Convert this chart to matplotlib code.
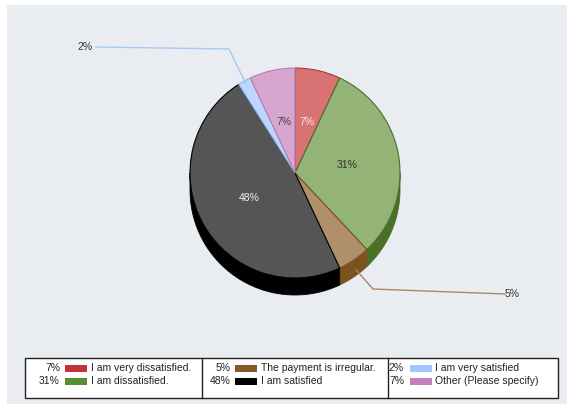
import numpy as np
import matplotlib
matplotlib.use('Agg')
import matplotlib.pyplot as plt
from matplotlib.patches import Wedge, Polygon, Rectangle

plt.rcParams['font.family'] = ['Liberation Sans', 'DejaVu Sans']

# survey answers, in pie order (clockwise from 12 o'clock)
answers = ['I am very dissatisfied.', 'I am dissatisfied.', 'The payment is irregular.',
           'I am satisfied', 'I am very satisfied', 'Other (Please specify)']
shares = [7, 31, 5, 48, 2, 7]

top_colors = ['#d97272', '#93b377', '#b0906c', '#555555', '#bed6ff', '#d6a6cf']
side_colors = ['#a83a3a', '#4a7028', '#7a541f', '#000000', '#8fb4f0', '#b77bad']
key_colors = ['#c3343a', '#568c34', '#835a27', '#000000', '#a3c4ff', '#c47eb9']
label_colors = ['#f4e8e8', '#333333', '#333333', '#f0f0f0', '#333333', '#444444']

W, H = 574, 405
fig = plt.figure(figsize=(W / 100, H / 100), dpi=100)
ax = fig.add_axes([0, 0, 1, 1])
ax.set_xlim(0, W)
ax.set_ylim(H, 0)
ax.axis('off')

# grey panel behind the chart
ax.add_patch(Rectangle((7, 5), 560, 399, facecolor='#e9edf1', edgecolor='none'))

cx, cy, r, depth = 295, 173, 105, 17


def pt(v, rad):
    a = np.radians(v)
    return cx + rad * np.cos(a), cy - rad * np.sin(a)


total = sum(shares)
bounds = []
start = 90.0
for s in shares:
    end = start - 360.0 * s / total
    bounds.append((start, end))
    start = end

# side of the disc: only the front (lower) half shows
for (v0, v1), col in zip(bounds, side_colors):
    for k in (-1, 0, 1):
        lo = max(v1, -180 + 360 * k)
        hi = min(v0, 360 * k)
        if hi <= lo:
            continue
        vs = np.linspace(lo, hi, 60)
        xs = cx + r * np.cos(np.radians(vs))
        ys = cy - r * np.sin(np.radians(vs))
        poly = np.concatenate([np.column_stack([xs, ys]),
                               np.column_stack([xs[::-1], ys[::-1] + depth])])
        ax.add_patch(Polygon(poly, closed=True, facecolor=col, edgecolor=col, lw=0.6))

# top face
for (v0, v1), fc, ec in zip(bounds, top_colors, side_colors):
    ax.add_patch(Wedge((cx, cy), r, -v0, -v1, facecolor=fc, edgecolor=ec, lw=0.8))

# value labels
for i, ((v0, v1), s) in enumerate(zip(bounds, shares)):
    mid = (v0 + v1) / 2
    if s >= 5 and i != 2:
        x, y = pt(mid, r * 0.5)
        ax.text(x, y, f'{s}%', ha='center', va='center', fontsize=7.5, color=label_colors[i])

# outside labels with leader lines
v0, v1 = bounds[4]
ax0, ay0 = pt((v0 + v1) / 2, r * 0.97)
ax.plot([ax0, 229, 96], [ay0, 49, 47], color='#a9c8f5', lw=1)
ax.text(93, 47, f'{shares[4]}%', ha='right', va='center', fontsize=7.5, color='#333333')

v0, v1 = bounds[2]
bx0, by0 = pt((v0 + v1) / 2, r * 1.0)
ax.plot([bx0 + 2, 373, 505], [by0 + 10, 289, 294], color='#a8895f', lw=1)
ax.text(505, 294, f'{shares[2]}%', ha='left', va='center', fontsize=7.5, color='#333333')

# legend box
ax.add_patch(Rectangle((25, 358), 533, 40, facecolor='white', edgecolor='#222222', lw=1))
for xd in (202, 388):
    ax.plot([xd, xd], [358, 398], color='#222222', lw=1)

pct_x = [60, 231, 404]
box_x = [65, 235, 410]
txt_x = [91, 261, 435]
row_y = [368, 381]
for i, (name, s, col) in enumerate(zip(answers, shares, key_colors)):
    c, rw = divmod(i, 2)
    y = row_y[rw]
    ax.text(pct_x[c], y, f'{s}%', ha='right', va='center', fontsize=7.5, color='#222222')
    ax.add_patch(Rectangle((box_x[c], y - 3.5), 22, 7, facecolor=col, edgecolor='none'))
    ax.text(txt_x[c], y, name, ha='left', va='center', fontsize=7.5, color='#222222')

fig.savefig('out.png', dpi=100, facecolor='white')
